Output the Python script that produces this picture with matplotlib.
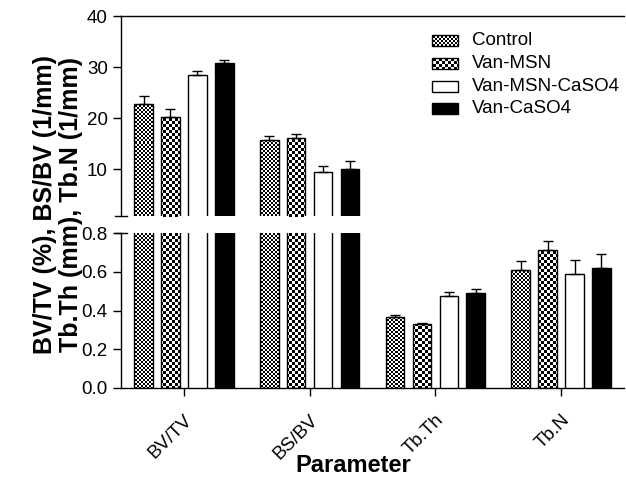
import numpy as np
import matplotlib
matplotlib.use('Agg')
import matplotlib.pyplot as plt
from matplotlib.patches import Rectangle

plt.rcParams['font.family'] = ['Liberation Sans', 'DejaVu Sans']

# data (upper error only)
categories = ['BV/TV', 'BS/BV', 'Tb.Th', 'Tb.N']
series_names = ['Control', 'Van-MSN', 'Van-MSN-CaSO4', 'Van-CaSO4']
control = [22.8, 15.6, 0.369, 0.608]
control_err = [1.5, 0.9, 0.008, 0.05]
van_msn = [20.2, 16.0, 0.329, 0.710]
van_msn_err = [1.5, 0.8, 0.009, 0.048]
van_msn_caso4 = [28.5, 9.5, 0.476, 0.589]
van_msn_caso4_err = [0.7, 1.1, 0.022, 0.07]
van_caso4 = [30.7, 10.1, 0.488, 0.618]
van_caso4_err = [0.6, 1.5, 0.022, 0.076]

values = [control, van_msn, van_msn_caso4, van_caso4]
errors = [control_err, van_msn_err, van_msn_caso4_err, van_caso4_err]
# fill style per series: checker cell size in px, or a plain colour
fills = [('checker', 2), ('checker', 3), ('plain', 'white'), ('plain', 'black')]

W, H = 626, 484
fig = plt.figure(figsize=(W / 100, H / 100), dpi=100)

def px_axes(x0, y0, x1, y1):
    return fig.add_axes([x0 / W, 1 - y1 / H, (x1 - x0) / W, (y1 - y0) / H])

ax_top = px_axes(121, 16, 624, 216)
ax_bot = px_axes(121, 233, 624, 388)
top_lim = (0.8, 40)
bot_lim = (0, 0.8)

def checker_img(ax, cell, clip):
    bb = ax.get_position()
    wpx = bb.width * W
    hpx = bb.height * H
    nx = int(np.ceil(wpx / cell))
    ny = int(np.ceil(hpx / cell))
    arr = (np.add.outer(np.arange(ny), np.arange(nx)) % 2).astype(float)
    im = ax.imshow(arr, cmap='gray', vmin=0, vmax=1, interpolation='nearest',
                   extent=(0, nx * cell / wpx, 1 - ny * cell / hpx, 1),
                   transform=ax.transAxes, aspect='auto', zorder=2)
    im.set_clip_path(clip)
    return im

x = np.arange(len(categories))
step = 0.214
width = 0.148
offsets = (np.arange(4) - 1.5) * step

for ax, lim in ((ax_top, top_lim), (ax_bot, bot_lim)):
    for i in range(4):
        style, arg = fills[i]
        fc = arg if style == 'plain' else 'none'
        v = np.array(values[i])
        e = np.array(errors[i])
        keep = v > lim[0]  # bars that reach this panel
        xs = (x + offsets[i])[keep]
        bars = ax.bar(xs, v[keep], width, color=fc,
                      edgecolor='black', linewidth=1.0, zorder=3)
        if style == 'checker':
            for b in bars:
                checker_img(ax, arg, b)
        ax.errorbar(xs, v[keep], yerr=[np.zeros(keep.sum()), e[keep]],
                    fmt='none', ecolor='black', elinewidth=1.0, capsize=3.6,
                    capthick=1.0, zorder=4)
    ax.set_xlim(-0.5, 3.5)
    ax.set_ylim(*lim)
    ax.spines['right'].set_visible(False)
    ax.tick_params(axis='y', direction='out', length=6, width=1, labelsize=13.5)
    for s in ax.spines.values():
        s.set_linewidth(1.0)

ax_top.set_yticks([10, 20, 30, 40])
ax_top.spines['bottom'].set_visible(False)
ax_top.set_xticks([])

ax_bot.set_yticks([0.0, 0.2, 0.4, 0.6, 0.8])
ax_bot.set_yticklabels(['0.0', '0.2', '0.4', '0.6', '0.8'])
ax_bot.spines['top'].set_visible(False)
ax_bot.set_xticks(x)
ax_bot.set_xticklabels(categories, rotation=45, ha='right', va='top',
                       rotation_mode='anchor', fontsize=13.5)
ax_bot.tick_params(axis='x', direction='out', length=6, width=1, pad=11)

# break marks on the left spine
d = 6 / 503
ax_top.plot([-d, d], [0, 0], color='black', lw=1, transform=ax_top.transAxes,
            clip_on=False)
ax_bot.plot([-d, d], [1, 1], color='black', lw=1, transform=ax_bot.transAxes,
            clip_on=False)

# legend drawn by hand
leg_rows = [40, 63, 86, 108]
for i, name in enumerate(series_names):
    yc = (216 - leg_rows[i]) / 200
    style, arg = fills[i]
    fc = arg if style == 'plain' else 'none'
    r = Rectangle(((432 - 121) / 503, yc - 5.5 / 200), 26 / 503, 11 / 200,
                  transform=ax_top.transAxes, facecolor=fc, edgecolor='black',
                  linewidth=1.0, zorder=3)
    ax_top.add_patch(r)
    if style == 'checker':
        checker_img(ax_top, arg, r)
    ax_top.text((472 - 121) / 503, yc, name, transform=ax_top.transAxes,
                fontsize=13.5, va='center', ha='left')

ax_top.set_xlim(-0.5, 3.5)
ax_bot.set_xlim(-0.5, 3.5)
ax_top.set_ylim(*top_lim)
ax_bot.set_ylim(*bot_lim)

fig.text(58 / W, 1 - 205 / H, 'BV/TV (%), BS/BV (1/mm)\nTb.Th (mm), Tb.N (1/mm)',
         rotation=90, ha='center', va='center', multialignment='center',
         fontsize=18, fontweight='bold', linespacing=1.13)
fig.text(353 / W, 1 - 466 / H, 'Parameter', ha='center', va='center',
         fontsize=17, fontweight='bold')

fig.savefig('out.png', dpi=100)
